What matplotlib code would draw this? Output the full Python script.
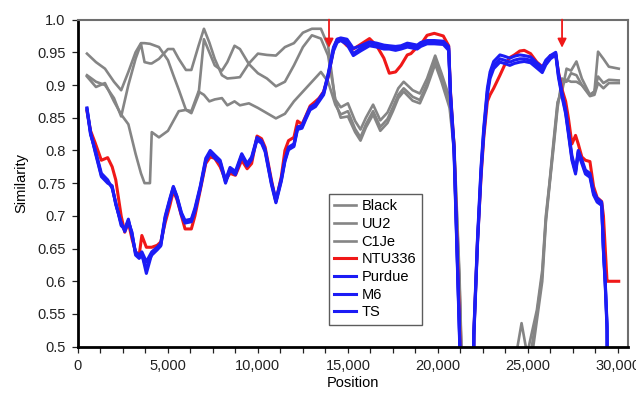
import numpy as np
import matplotlib
matplotlib.use('Agg')
import matplotlib.pyplot as plt
from matplotlib.ticker import MultipleLocator

plt.rcParams['font.family'] = ['Liberation Sans', 'DejaVu Sans']

########### data ###########

# gray lines (Black, UU2, C1Je) share one position grid
gray_pos = [500, 1000, 1500, 2000, 2400, 2800, 3200, 3500, 3700, 4000, 4100,
            4500, 5000, 5300, 5600, 6000, 6300, 6700, 7000, 7300, 7600,
            8000, 8300, 8700, 9000, 9500, 10000, 10500, 11000, 11500, 12000,
            12500, 13000, 13500, 13900, 14300, 14600, 15000, 15400, 15700, 16000,
            16400, 16800, 17200, 17500, 17800, 18100, 18600, 19000, 19400, 19850,
            20200, 20650, 20900, 21200, 21500,
            24300, 24650, 24950, 25050, 25500, 25800, 26000, 26200, 26450, 26650,
            26900, 27150, 27400, 27700, 28000, 28450, 28700, 28900, 29200, 29500,
            30050]

black = [0.913, 0.897, 0.903, 0.875, 0.855, 0.840, 0.795, 0.765, 0.750, 0.750, 0.828,
         0.820, 0.830, 0.845, 0.860, 0.862, 0.860, 0.890, 0.885, 0.875, 0.878,
         0.880, 0.869, 0.875, 0.869, 0.872, 0.865, 0.857, 0.849, 0.856, 0.875,
         0.890, 0.905, 0.920, 0.905, 0.870, 0.855, 0.860, 0.833, 0.820, 0.840,
         0.860, 0.836, 0.848, 0.866, 0.885, 0.895, 0.882, 0.877, 0.902, 0.938,
         0.910, 0.872, 0.810, 0.600, 0.300,
         0.480, 0.536, 0.490, 0.500, 0.556, 0.617, 0.700, 0.750, 0.820, 0.874,
         0.890, 0.925, 0.922, 0.936, 0.910, 0.885, 0.890, 0.951, 0.940, 0.928,
         0.925]

uu2 = [0.948, 0.935, 0.925, 0.905, 0.892, 0.920, 0.950, 0.964, 0.964, 0.963, 0.962,
       0.958, 0.938, 0.915, 0.893, 0.862, 0.857, 0.885, 0.970, 0.950, 0.930,
       0.922, 0.935, 0.960, 0.955, 0.932, 0.918, 0.910, 0.898, 0.905, 0.930,
       0.958, 0.976, 0.971, 0.945, 0.878, 0.866, 0.872, 0.845, 0.832, 0.850,
       0.870, 0.846, 0.858, 0.876, 0.895, 0.905, 0.892, 0.887, 0.910, 0.945,
       0.918, 0.880, 0.815, 0.610, 0.300,
       0.300, 0.300, 0.400, 0.450, 0.540, 0.600, 0.690, 0.745, 0.810, 0.865,
       0.910, 0.905, 0.918, 0.915, 0.900, 0.885, 0.890, 0.913, 0.903, 0.908,
       0.907]

c1je = [0.915, 0.905, 0.900, 0.880, 0.852, 0.900, 0.940, 0.963, 0.935, 0.933, 0.933,
        0.940, 0.955, 0.955, 0.940, 0.923, 0.923, 0.960, 0.986, 0.965, 0.940,
        0.915, 0.910, 0.911, 0.912, 0.933, 0.948, 0.946, 0.945, 0.958, 0.964,
        0.980, 0.986, 0.986, 0.960, 0.875, 0.850, 0.852, 0.828, 0.815, 0.835,
        0.855, 0.830, 0.842, 0.860, 0.880, 0.890, 0.876, 0.872, 0.897, 0.932,
        0.905, 0.865, 0.800, 0.590, 0.300,
        0.300, 0.300, 0.420, 0.470, 0.550, 0.610, 0.695, 0.748, 0.815, 0.870,
        0.900, 0.908, 0.905, 0.905, 0.900, 0.883, 0.885, 0.903, 0.895, 0.903,
        0.903]

# coloured lines (NTU336, Purdue, M6, TS) share another grid
col_pos = [500, 700, 950, 1300, 1650, 1900, 2100, 2400, 2600, 2800,
           3000, 3200, 3400, 3550, 3800, 4000, 4100, 4400, 4600, 4850,
           5100, 5300, 5500, 5750, 5950, 6300, 6500, 6800, 7100, 7350,
           7600, 7900, 8200, 8450, 8750, 9100, 9400, 9650, 9950, 10200,
           10400, 10750, 11000, 11300, 11500, 11700, 12000, 12200, 12450, 12650,
           12900, 13200, 13400, 13650, 13900, 14200, 14400, 14600, 14950, 15300,
           15700, 16200, 16600, 17000, 17300, 17650, 17950, 18300, 18500, 18850,
           19050, 19400, 19800, 20300, 20600, 20700, 20900, 21200, 21500, 21900,
           22000, 22200, 22400, 22550, 22750, 22900, 23100, 23450, 23700, 24000,
           24250, 24550, 24800, 25150, 25500, 25800, 26000, 26250, 26550, 26700,
           26900, 27100, 27250, 27450, 27650, 27800, 28000, 28200, 28450, 28650,
           28850, 29100, 29200, 29300, 29400, 29450, 30050]

ntu336 = [0.860, 0.830, 0.812, 0.785, 0.789, 0.775, 0.755, 0.700, 0.675, 0.690,
          0.665, 0.645, 0.640, 0.670, 0.652, 0.652, 0.652, 0.655, 0.660, 0.690,
          0.715, 0.738, 0.725, 0.700, 0.680, 0.680, 0.700, 0.740, 0.780, 0.790,
          0.788, 0.775, 0.755, 0.765, 0.762, 0.785, 0.772, 0.780, 0.822, 0.818,
          0.805, 0.755, 0.722, 0.760, 0.800, 0.815, 0.820, 0.845, 0.840, 0.852,
          0.868, 0.875, 0.880, 0.890, 0.912, 0.955, 0.970, 0.970, 0.960, 0.955,
          0.962, 0.971, 0.960, 0.941, 0.918, 0.920, 0.930, 0.946, 0.948, 0.958,
          0.962, 0.976, 0.979, 0.975, 0.960, 0.890, 0.805, 0.540, 0.200, 0.200,
          0.520, 0.660, 0.760, 0.820, 0.875, 0.885, 0.895, 0.915, 0.930, 0.942,
          0.946, 0.952, 0.953, 0.948, 0.935, 0.928, 0.932, 0.945, 0.946, 0.920,
          0.893, 0.875, 0.850, 0.810, 0.823, 0.810, 0.790, 0.785, 0.783, 0.745,
          0.728, 0.722, 0.700, 0.650, 0.600, 0.600, 0.600]

purdue = [0.864, 0.826, 0.800, 0.762, 0.752, 0.744, 0.719, 0.688, 0.678, 0.693,
          0.673, 0.642, 0.637, 0.642, 0.612, 0.632, 0.642, 0.650, 0.655, 0.698,
          0.724, 0.744, 0.729, 0.703, 0.691, 0.693, 0.709, 0.744, 0.785, 0.798,
          0.790, 0.783, 0.752, 0.772, 0.765, 0.793, 0.778, 0.788, 0.818, 0.813,
          0.800, 0.750, 0.722, 0.755, 0.785, 0.803, 0.808, 0.834, 0.836, 0.849,
          0.864, 0.869, 0.877, 0.887, 0.915, 0.955, 0.968, 0.971, 0.966, 0.948,
          0.956, 0.964, 0.962, 0.958, 0.958, 0.956, 0.958, 0.961, 0.960, 0.958,
          0.962, 0.966, 0.966, 0.964, 0.956, 0.885, 0.800, 0.520, 0.200, 0.200,
          0.520, 0.660, 0.770, 0.830, 0.890, 0.915, 0.930, 0.940, 0.938, 0.935,
          0.938, 0.940, 0.940, 0.938, 0.930, 0.923, 0.935, 0.943, 0.948, 0.915,
          0.885, 0.859, 0.829, 0.788, 0.767, 0.798, 0.783, 0.767, 0.762, 0.735,
          0.724, 0.719, 0.648, 0.597, 0.530, 0.300, np.nan]

m6 = [0.862, 0.824, 0.802, 0.765, 0.755, 0.742, 0.720, 0.685, 0.680, 0.695,
      0.670, 0.645, 0.640, 0.645, 0.630, 0.640, 0.645, 0.652, 0.658, 0.700,
      0.726, 0.745, 0.730, 0.705, 0.693, 0.695, 0.712, 0.746, 0.788, 0.800,
      0.793, 0.785, 0.755, 0.774, 0.768, 0.795, 0.780, 0.790, 0.820, 0.815,
      0.802, 0.752, 0.725, 0.757, 0.787, 0.805, 0.810, 0.836, 0.838, 0.851,
      0.866, 0.871, 0.879, 0.889, 0.917, 0.958, 0.970, 0.972, 0.970, 0.956,
      0.960, 0.966, 0.964, 0.961, 0.960, 0.959, 0.960, 0.964, 0.963, 0.961,
      0.965, 0.968, 0.968, 0.967, 0.959, 0.888, 0.805, 0.525, 0.200, 0.200,
      0.525, 0.665, 0.775, 0.835, 0.895, 0.920, 0.936, 0.946, 0.944, 0.941,
      0.944, 0.946, 0.945, 0.943, 0.934, 0.927, 0.938, 0.945, 0.950, 0.918,
      0.888, 0.862, 0.832, 0.792, 0.770, 0.800, 0.786, 0.770, 0.765, 0.738,
      0.727, 0.721, 0.650, 0.600, 0.535, 0.300, np.nan]

ts = [0.865, 0.828, 0.798, 0.760, 0.750, 0.746, 0.717, 0.690, 0.676, 0.691,
      0.675, 0.640, 0.635, 0.640, 0.620, 0.635, 0.640, 0.648, 0.654, 0.696,
      0.722, 0.742, 0.727, 0.701, 0.689, 0.691, 0.707, 0.742, 0.783, 0.796,
      0.788, 0.781, 0.750, 0.770, 0.763, 0.791, 0.776, 0.786, 0.816, 0.811,
      0.798, 0.748, 0.720, 0.753, 0.783, 0.801, 0.806, 0.832, 0.834, 0.847,
      0.862, 0.867, 0.875, 0.885, 0.913, 0.952, 0.965, 0.968, 0.962, 0.945,
      0.952, 0.960, 0.958, 0.955, 0.955, 0.953, 0.955, 0.958, 0.957, 0.955,
      0.959, 0.963, 0.963, 0.962, 0.953, 0.882, 0.795, 0.515, 0.200, 0.200,
      0.515, 0.655, 0.765, 0.825, 0.885, 0.910, 0.925, 0.935, 0.933, 0.930,
      0.933, 0.935, 0.936, 0.934, 0.926, 0.919, 0.931, 0.940, 0.946, 0.912,
      0.882, 0.856, 0.826, 0.785, 0.764, 0.795, 0.780, 0.764, 0.759, 0.732,
      0.721, 0.716, 0.645, 0.594, 0.525, 0.300, np.nan]

arrow_pos = [13950, 26900]

y_ticks = [0.5, 0.55, 0.6, 0.65, 0.7, 0.75, 0.8, 0.85, 0.9, 0.95, 1.0]
y_labels = ['0.5', '0.55', '0.6', '0.65', '0.7', '0.75', '0.8', '0.85', '0.9', '0.95', '1.0']
x_ticks = [0, 5000, 10000, 15000, 20000, 25000, 30000]
x_labels = ['0', '5,000', '10,000', '15,000', '20,000', '25,000', '30,000']

########### plot ###########

GRAY = '#858585'
RED = '#f01818'
BLUE = '#1c1cf5'

fig = plt.figure(figsize=(6.36, 3.96), dpi=100)
ax = fig.add_axes([0.1226, 0.1245, 0.8644, 0.826])

ax.plot(gray_pos, black, color=GRAY, lw=1.9, label='Black')
ax.plot(gray_pos, uu2, color=GRAY, lw=1.9, label='UU2')
ax.plot(gray_pos, c1je, color=GRAY, lw=1.9, label='C1Je')
ax.plot(col_pos, ntu336, color=RED, lw=2.2, label='NTU336')
ax.plot(col_pos, purdue, color=BLUE, lw=2.2, label='Purdue')
ax.plot(col_pos, m6, color=BLUE, lw=2.2, label='M6')
ax.plot(col_pos, ts, color=BLUE, lw=2.2, label='TS')

for p in arrow_pos:
    ax.annotate('', xy=(p, 0.957), xytext=(p, 1.0),
                arrowprops=dict(arrowstyle='-|>', color=RED, lw=1.3,
                                mutation_scale=13, shrinkA=0, shrinkB=0),
                annotation_clip=False)

ax.set_xlim(0, 30550)
ax.set_ylim(0.5, 1.0)
ax.set_xticks(x_ticks)
ax.set_xticklabels(x_labels)
ax.set_yticks(y_ticks)
ax.set_yticklabels(y_labels)
ax.xaxis.set_minor_locator(MultipleLocator(1250))
ax.tick_params(axis='both', which='both', direction='out', labelsize=10.5,
               colors='#222222')
ax.tick_params(axis='x', which='both', length=4, width=0.9, pad=5)
ax.tick_params(axis='y', which='major', length=4, width=0.9, pad=5)

ax.set_xlabel('Position', fontsize=10.5, labelpad=2)
ax.set_ylabel('Similarity', fontsize=10.5, labelpad=6)

for s in ['left', 'bottom']:
    ax.spines[s].set_color('black')
    ax.spines[s].set_linewidth(2)
for s in ['top', 'right']:
    ax.spines[s].set_color('#6e6e6e')
    ax.spines[s].set_linewidth(1.5)

leg = ax.legend(loc='lower left', bbox_to_anchor=(0.456, 0.066), borderaxespad=0,
                fontsize=10.5, frameon=True, fancybox=False, handlelength=1.5,
                handletextpad=0.35, labelspacing=0.25, borderpad=0.4)
leg.get_frame().set_edgecolor('#333333')
leg.get_frame().set_linewidth(1.0)

plt.savefig('out.png', dpi=100)
